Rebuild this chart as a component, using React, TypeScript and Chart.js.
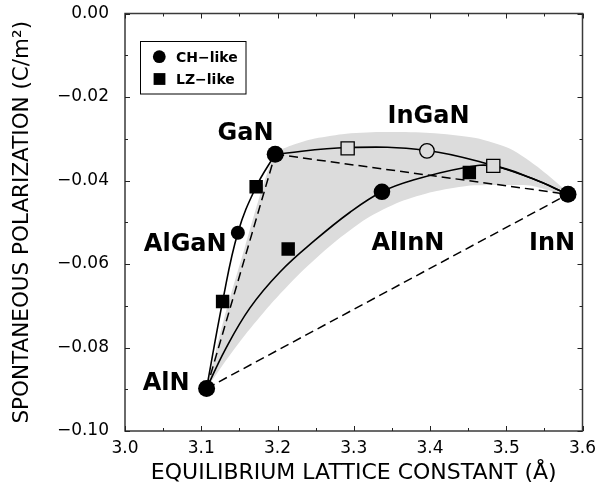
import React, { useEffect, useRef } from 'react';
import { Chart, registerables } from 'chart.js';

Chart.register(...registerables);

// ---- axis ranges / ticks ----
const X_MIN = 3.0;
const X_MAX = 3.6;
const Y_MIN = -0.1;
const Y_MAX = 0.0;
const X_STEP = 0.1;
const Y_STEP = 0.02;

// ---- binary endpoints: AlN, GaN, InN ----
const endX = [3.107, 3.197, 3.581];
const endY = [-0.0898, -0.0337, -0.0433];

// ---- CH-like alloy points (filled circles): AlGaN, AlInN ----
const chAlloyX = [3.148, 3.337];
const chAlloyY = [-0.0525, -0.0427];

// ---- LZ-like points (filled squares) ----
const lzX = [3.128, 3.172, 3.214, 3.4516];
const lzY = [-0.069, -0.0415, -0.0564, -0.0381];

// ---- open markers on InGaN curve ----
const openSqX = [3.292, 3.483];
const openSqY = [-0.0323, -0.0365];
const openCircX = [3.396];
const openCircY = [-0.0329];

// ---- solid bowing curves ----
const alganX = [3.107, 3.128, 3.148, 3.172, 3.197];
const alganY = [-0.0898, -0.069, -0.0525, -0.0415, -0.0337];

const inganX = [3.197, 3.292, 3.396, 3.483, 3.535, 3.581];
const inganY = [-0.0337, -0.0321, -0.0328, -0.0364, -0.0396, -0.0433];

const alinnX = [3.107, 3.1311, 3.1639, 3.2033, 3.2492, 3.2951, 3.337, 3.378, 3.443, 3.483, 3.535, 3.581];
const alinnY = [-0.0898, -0.0806, -0.0705, -0.0619, -0.0543, -0.0476, -0.0427, -0.0399, -0.037, -0.0365, -0.0396, -0.0433];

// ---- gray shaded region outline ----
const bandX = [3.107, 3.13, 3.157, 3.1795, 3.197, 3.215, 3.245, 3.285, 3.335, 3.4, 3.46, 3.505, 3.545, 3.581,
  3.5311, 3.4918, 3.4481, 3.4043, 3.3607, 3.317, 3.2732, 3.2295, 3.1902, 3.1574, 3.1311];
const bandY = [-0.0898, -0.073, -0.0561, -0.0421, -0.0337, -0.0318, -0.0301, -0.0289, -0.0284, -0.0286, -0.0298, -0.0324, -0.0373, -0.0433,
  -0.0412, -0.0411, -0.0413, -0.0427, -0.0451, -0.0491, -0.055, -0.0622, -0.0698, -0.077, -0.0834];

// ---- text labels ----
const labelNames = ['GaN', 'AlGaN', 'AlN', 'InGaN', 'AlInN', 'InN'];
const labelX = [3.158, 3.079, 3.054, 3.398, 3.371, 3.56];
const labelY = [-0.0282, -0.0547, -0.0882, -0.0241, -0.0545, -0.0545];

const legendNames = ['CH\u2212like', 'LZ\u2212like'];

const pts = (xs: number[], ys: number[]) => xs.map((x, i) => ({ x, y: ys[i] }));

const GRAY = '#dcdcdc';
const FONT = '"DejaVu Sans", "Liberation Sans", Arial, sans-serif';

const framePlugin = {
  id: 'frameTicks',
  afterDatasetsDraw(chart: any) {
    const { ctx, chartArea, scales } = chart;
    const { left, right, top, bottom } = chartArea;
    const xs = scales.x;
    const ys = scales.y;
    ctx.save();
    ctx.strokeStyle = '#3a3a3a';
    ctx.lineWidth = 1.5;
    ctx.strokeRect(left, top, right - left, bottom - top);
    ctx.lineWidth = 1;
    ctx.strokeStyle = '#222';
    const nx = Math.round((X_MAX - X_MIN) / (X_STEP / 2));
    for (let i = 0; i <= nx; i++) {
      const v = X_MIN + (i * X_STEP) / 2;
      const px = Math.round(xs.getPixelForValue(v)) + 0.5;
      const len = i % 2 === 0 ? 5 : 3;
      ctx.beginPath();
      ctx.moveTo(px, bottom);
      ctx.lineTo(px, bottom - len);
      ctx.moveTo(px, top);
      ctx.lineTo(px, top + len);
      ctx.stroke();
    }
    const ny = Math.round((Y_MAX - Y_MIN) / (Y_STEP / 2));
    for (let i = 0; i <= ny; i++) {
      const v = Y_MIN + (i * Y_STEP) / 2;
      const py = Math.round(ys.getPixelForValue(v)) + 0.5;
      const len = i % 2 === 0 ? 5 : 3;
      ctx.beginPath();
      ctx.moveTo(left, py);
      ctx.lineTo(left + len, py);
      ctx.moveTo(right, py);
      ctx.lineTo(right - len, py);
      ctx.stroke();
    }
    ctx.restore();
  },
};

const labelPlugin = {
  id: 'labels',
  afterDatasetsDraw(chart: any) {
    const { ctx, scales } = chart;
    ctx.save();
    ctx.fillStyle = '#000';
    ctx.font = `bold 24px ${FONT}`;
    ctx.textAlign = 'center';
    ctx.textBaseline = 'alphabetic';
    labelNames.forEach((t, i) => {
      const px = scales.x.getPixelForValue(labelX[i]);
      const py = scales.y.getPixelForValue(labelY[i]);
      ctx.fillText(t, px, py + 8.7);
    });

    // legend box
    const bx = 140.5, by = 41.5, bw = 105.5, bh = 52.5;
    ctx.strokeStyle = '#000';
    ctx.lineWidth = 1;
    ctx.strokeRect(bx, by, bw, bh);
    ctx.beginPath();
    ctx.arc(159.3, 56.7, 6.4, 0, Math.PI * 2);
    ctx.fill();
    ctx.fillRect(159.5 - 5.9, 79 - 5.9, 11.8, 11.8);
    ctx.font = `bold 14px ${FONT}`;
    ctx.textAlign = 'left';
    ctx.fillText(legendNames[0], 176, 61.7);
    ctx.fillText(legendNames[1], 176, 84.2);
    ctx.restore();
  },
};

export default function App() {
  const ref = useRef<HTMLCanvasElement>(null);
  useEffect(() => {
    if (!ref.current) return;
    const endPts = pts(endX, endY);
    const chart = new Chart(ref.current, {
      type: 'scatter',
      data: {
        datasets: [
          {
            data: endPts,
            pointStyle: 'circle',
            pointRadius: 8.5,
            backgroundColor: '#000',
            borderColor: '#000',
            borderWidth: 0,
            order: 0,
          },
          {
            data: pts(chAlloyX, chAlloyY),
            pointStyle: 'circle',
            pointRadius: [7, 8.3],
            backgroundColor: '#000',
            borderColor: '#000',
            borderWidth: 0,
            order: 0,
          },
          {
            data: pts(lzX, lzY),
            pointStyle: 'rect',
            pointRadius: 9.5,
            backgroundColor: '#000',
            borderColor: '#000',
            borderWidth: 0,
            order: 0,
          },
          {
            data: pts(openSqX, openSqY),
            pointStyle: 'rect',
            pointRadius: 9.3,
            backgroundColor: GRAY,
            borderColor: '#000',
            borderWidth: 1.3,
            order: 0,
          },
          {
            data: pts(openCircX, openCircY),
            pointStyle: 'circle',
            pointRadius: 7.3,
            backgroundColor: GRAY,
            borderColor: '#000',
            borderWidth: 1.3,
            order: 0,
          },
          {
            data: pts(alganX, alganY),
            showLine: true,
            tension: 0.4,
            borderColor: '#000',
            borderWidth: 1.6,
            pointRadius: 0,
            fill: false,
            order: 5,
          },
          {
            data: pts(inganX, inganY),
            showLine: true,
            tension: 0.4,
            borderColor: '#000',
            borderWidth: 1.6,
            pointRadius: 0,
            fill: false,
            order: 5,
          },
          {
            data: pts(alinnX, alinnY),
            showLine: true,
            tension: 0.4,
            borderColor: '#000',
            borderWidth: 1.6,
            pointRadius: 0,
            fill: false,
            order: 5,
          },
          {
            data: [endPts[0], endPts[1]],
            showLine: true,
            borderColor: '#000',
            borderWidth: 1.5,
            borderDash: [9, 5],
            pointRadius: 0,
            fill: false,
            order: 6,
          },
          {
            data: [endPts[1], endPts[2]],
            showLine: true,
            borderColor: '#000',
            borderWidth: 1.5,
            borderDash: [9, 5],
            pointRadius: 0,
            fill: false,
            order: 6,
          },
          {
            data: [endPts[0], endPts[2]],
            showLine: true,
            borderColor: '#000',
            borderWidth: 1.5,
            borderDash: [9, 5],
            pointRadius: 0,
            fill: false,
            order: 6,
          },
          {
            data: pts(bandX, bandY),
            showLine: true,
            tension: 0.25,
            borderWidth: 0,
            borderColor: 'rgba(0,0,0,0)',
            backgroundColor: GRAY,
            pointRadius: 0,
            fill: 'shape',
            order: 10,
          },
        ],
      },
      options: {
        animation: false,
        responsive: false,
        devicePixelRatio: 1,
        events: [],
        layout: { padding: { left: 0, top: 13.5, right: 17.5, bottom: 0 } },
        plugins: {
          legend: { display: false },
          tooltip: { enabled: false },
          filler: { drawTime: 'beforeDatasetsDraw' },
        },
        scales: {
          x: {
            type: 'linear',
            position: 'bottom',
            min: X_MIN,
            max: X_MAX,
            grid: { display: false, drawTicks: false },
            border: { display: false },
            ticks: {
              stepSize: X_STEP,
              autoSkip: false,
              maxRotation: 0,
              padding: 7,
              color: '#000',
              font: { family: FONT, size: 17 },
              callback: (v: any) => Number(v).toFixed(1),
            },
            title: {
              display: true,
              text: 'EQUILIBRIUM LATTICE CONSTANT (\u00c5)',
              color: '#000',
              font: { family: FONT, size: 22 },
              padding: { top: 0, bottom: 5 },
            },
            afterFit: (s: any) => {
              s.height = 60;
              s.paddingLeft = 0;
              s.paddingRight = 0;
            },
          },
          y: {
            type: 'linear',
            position: 'left',
            min: Y_MIN,
            max: Y_MAX,
            grid: { display: false, drawTicks: false },
            border: { display: false },
            ticks: {
              stepSize: Y_STEP,
              autoSkip: false,
              padding: 16,
              color: '#000',
              font: { family: FONT, size: 17 },
              callback: (v: any) => Number(v).toFixed(2).replace('-', '\u2212'),
            },
            title: {
              display: true,
              text: 'SPONTANEOUS POLARIZATION (C/m\u00b2)',
              color: '#000',
              font: { family: FONT, size: 21.5 },
              padding: { top: 10, bottom: 0 },
            },
            afterFit: (s: any) => {
              s.width = 125;
              s.paddingTop = 0;
              s.paddingBottom = 0;
            },
          },
        },
      } as any,
      plugins: [framePlugin, labelPlugin],
    });
    return () => chart.destroy();
  }, []);
  return (
    <div style={{ position: 'fixed', left: 0, top: 0, width: 600, height: 491, background: '#fff' }}>
      <canvas ref={ref} width={600} height={491} style={{ display: 'block', width: 600, height: 491 }} />
    </div>
  );
}
